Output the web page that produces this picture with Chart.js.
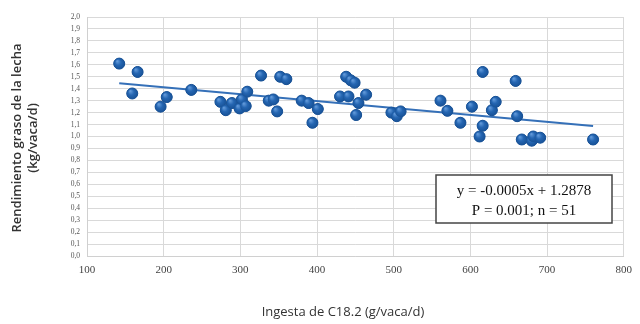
<!DOCTYPE html>
<html>
<head>
<meta charset="utf-8">
<script src="https://cdn.jsdelivr.net/npm/chart.js@4/dist/chart.umd.min.js"></script>
<style>
    html, body { margin: 0; padding: 0; background: #fff; }
    #wrap { width: 640px; height: 324px; position: relative; }
</style>
</head>
<body>
<div id="wrap"><canvas id="chart"></canvas></div>
<script>
// =============================
// DATA
// =============================
const intake = [142, 159, 166, 196, 204, 236, 274, 281, 289, 299, 302, 307, 309, 327, 337, 343, 348, 352, 360,
    380, 389, 394, 401, 430, 438, 441, 444, 449, 451, 454, 464, 497, 504, 509, 561, 570, 587, 602, 612, 616,
    616, 628, 633, 659, 661, 667, 680, 682, 691, 760];
const fatYield = [1.61, 1.36, 1.54, 1.25, 1.33, 1.39, 1.29, 1.22, 1.28, 1.235, 1.31, 1.255, 1.375, 1.51, 1.30, 1.31, 1.21, 1.50, 1.48,
    1.30, 1.28, 1.115, 1.23, 1.335, 1.50, 1.335, 1.47, 1.45, 1.18, 1.28, 1.35, 1.20, 1.17, 1.21, 1.30, 1.215, 1.115, 1.25, 1.00, 1.54,
    1.09, 1.22, 1.29, 1.465, 1.17, 0.975, 0.965, 1.00, 0.99, 0.975];

// trend line as drawn in the figure (start / end)
const trendX = [142, 760];
const trendY = [1.445, 1.088];

const xTicks = [100, 200, 300, 400, 500, 600, 700, 800];
const yTicks = [0, 0.1, 0.2, 0.3, 0.4, 0.5, 0.6, 0.7, 0.8, 0.9, 1.0, 1.1, 1.2, 1.3, 1.4, 1.5, 1.6, 1.7, 1.8, 1.9, 2.0];

const yTitle = ["Rendimiento graso de la lecha", "(kg/vaca/d)"];
const xTitle = "Ingesta de C18.2 (g/vaca/d)";
const eqText = ["y = -0.0005x + 1.2878", "P = 0.001; n = 51"];

// =============================
// PLUGINS
// =============================
// shaded "sphere" look on the markers, using the library's own point positions
const spheres = {
    id: "spheres",
    afterDatasetsDraw(chart) {
        const c = chart.ctx;
        const meta = chart.getDatasetMeta(1);
        c.save();
        meta.data.forEach(p => {
            const r = 5.5;
            const g = c.createRadialGradient(p.x - 2, p.y - 2.5, 0.5, p.x, p.y, r + 0.5);
            g.addColorStop(0, "#5f97d8");
            g.addColorStop(0.45, "#2566b2");
            g.addColorStop(1, "#164f93");
            c.beginPath();
            c.arc(p.x, p.y, r, 0, Math.PI * 2);
            c.fillStyle = g;
            c.fill();
        });
        c.restore();
    }
};

const titles = {
    id: "titles",
    afterDraw(chart) {
        const c = chart.ctx;
        c.save();
        c.fillStyle = "#333";
        c.font = "600 13px 'Open Sans', sans-serif";
        c.textAlign = "center";
        c.textBaseline = "middle";
        // y title (two lines, rotated)
        c.translate(25, 138);
        c.rotate(-Math.PI / 2);
        c.fillText(yTitle[0], 0, -8);
        c.fillText(yTitle[1], 0, 8);
        c.restore();

        c.save();
        c.fillStyle = "#333";
        c.font = "500 13px 'Open Sans', sans-serif";
        c.textAlign = "center";
        c.textBaseline = "middle";
        c.fillText(xTitle, 343, 312);
        c.restore();

        // equation box
        c.save();
        c.fillStyle = "#fff";
        c.fillRect(436, 175, 176, 48);
        c.strokeStyle = "#444";
        c.lineWidth = 1.5;
        c.strokeRect(436, 175, 176, 48);
        c.fillStyle = "#111";
        c.font = "15px 'Liberation Serif', 'Times New Roman', serif";
        c.textAlign = "center";
        c.textBaseline = "middle";
        c.fillText(eqText[0], 524, 191);
        c.fillText(eqText[1], 524, 211);
        c.restore();
    }
};

// =============================
// CHART
// =============================
new Chart(document.getElementById("chart"), {
    type: "scatter",
    data: {
        datasets: [
            {
                label: "Trend",
                type: "line",
                data: trendX.map((x, i) => ({ x, y: trendY[i] })),
                borderColor: "#3570b8",
                borderWidth: 2,
                pointRadius: 0,
                order: 2
            },
            {
                label: "Data",
                data: intake.map((x, i) => ({ x, y: fatYield[i] })),
                backgroundColor: "#1f60ab",
                borderColor: "#174f92",
                borderWidth: 1,
                pointRadius: 5.5,
                order: 1
            }
        ]
    },
    options: {
        responsive: true,
        maintainAspectRatio: false,
        animation: false,
        layout: { padding: { top: 17, right: 5, left: 0, bottom: 0 } },
        plugins: {
            legend: { display: false },
            tooltip: { enabled: false }
        },
        scales: {
            x: {
                type: "linear",
                min: 100,
                max: 800,
                afterBuildTicks: s => { s.ticks = xTicks.map(v => ({ value: v })); },
                afterFit: s => { s.height = 68; },
                grid: { color: "#d9d9d9", drawTicks: false },
                border: { color: "#d0d0d0" },
                ticks: {
                    padding: 8,
                    color: "#444",
                    autoSkip: false,
                    font: { family: "'Liberation Serif', serif", size: 11 }
                }
            },
            y: {
                min: 0,
                max: 2,
                afterBuildTicks: s => { s.ticks = yTicks.map(v => ({ value: v })); },
                afterFit: s => { s.width = 87; },
                grid: { color: "#d9d9d9", drawTicks: false },
                border: { color: "#d0d0d0" },
                ticks: {
                    padding: 7,
                    color: "#555",
                    autoSkip: false,
                    font: { family: "'Liberation Serif', serif", size: 7.5 },
                    callback: v => v.toFixed(1).replace(".", ",")
                }
            }
        }
    },
    plugins: [spheres, titles]
});
</script>
</body>
</html>
